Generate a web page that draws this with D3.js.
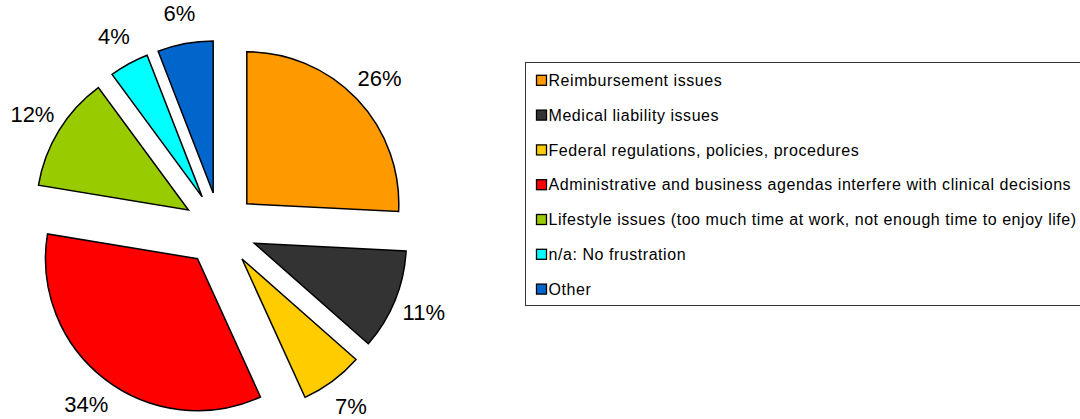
<!DOCTYPE html>
<html>
<head>
<meta charset="utf-8">
<script src="https://cdn.jsdelivr.net/npm/d3@7"></script>
<style>
  body { margin: 0; background: #fff; }
  svg { display: block; font-family: "Liberation Sans", Arial, sans-serif; }
</style>
</head>
<body>
<div id="chart"></div>
<script>
// chart data (shares, labels as printed)
var categories = [
  "Reimbursement issues",
  "Medical liability issues",
  "Federal regulations, policies, procedures",
  "Administrative and business agendas interfere with clinical decisions",
  "Lifestyle issues (too much time at work, not enough time to enjoy life)",
  "n/a: No frustration",
  "Other"
];
var values = [25.8, 10.7, 6.7, 34.4, 12.3, 4.2, 5.9];
var labels = ["26%", "11%", "7%", "34%", "12%", "4%", "6%"];
var colors = ["#FF9900", "#333333", "#FFCC00", "#FF0000", "#99CC00", "#00FFFF", "#0066CC"];

var width = 1080, height = 419;
var cx = 220, cy = 229.3,
    radius = 152, explode = 37, labelRadius = 183;

var svg = d3.select("#chart").append("svg")
    .attr("width", width)
    .attr("height", height);

var data = values.map(function(v, i) { return {name: categories[i], value: v, label: labels[i], color: colors[i]}; });

var pie = d3.pie()
    .sort(null)
    .value(function(d) { return d.value; });

var arc = d3.arc()
    .innerRadius(0)
    .outerRadius(radius);

var labelArc = d3.arc()
    .innerRadius(labelRadius)
    .outerRadius(labelRadius);

function offset(d) {
  var a = (d.startAngle + d.endAngle) / 2;
  return [Math.sin(a) * explode, -Math.cos(a) * explode];
}

var g = svg.append("g")
    .attr("transform", "translate(" + cx + "," + cy + ")");

var slices = g.selectAll(".slice")
    .data(pie(data))
  .enter().append("g")
    .attr("class", "slice")
    .attr("transform", function(d) {
      var o = offset(d);
      return "translate(" + o[0] + "," + o[1] + ")";
    });

slices.append("path")
    .attr("d", arc)
    .attr("fill", function(d) { return d.data.color; })
    .attr("stroke", "#000")
    .attr("stroke-width", 1.5)
    .attr("stroke-linejoin", "miter");

slices.append("text")
    .attr("transform", function(d) { return "translate(" + labelArc.centroid(d) + ")"; })
    .attr("text-anchor", "middle")
    .attr("dy", "0.36em")
    .style("font-size", "22px")
    .style("fill", "#000")
    .text(function(d) { return d.data.label; });

// legend
var legend = svg.append("g")
    .attr("transform", "translate(525.5,62.5)");

legend.append("rect")
    .attr("width", 600)
    .attr("height", 243)
    .attr("fill", "#fff")
    .attr("stroke", "#333")
    .attr("stroke-width", 1);

var items = legend.selectAll(".item")
    .data(data)
  .enter().append("g")
    .attr("class", "item")
    .attr("transform", function(d, i) { return "translate(0," + (17.8 + i * 34.8) + ")"; });

items.append("rect")
    .attr("x", 11)
    .attr("y", -5)
    .attr("width", 10)
    .attr("height", 10)
    .attr("fill", function(d) { return d.color; })
    .attr("stroke", "#000")
    .attr("stroke-width", 1.3);

items.append("text")
    .attr("x", 23)
    .attr("dy", "0.36em")
    .style("font-size", "16px")
    .style("letter-spacing", "0.55px")
    .style("fill", "#000")
    .text(function(d) { return d.name; });
</script>
</body>
</html>
